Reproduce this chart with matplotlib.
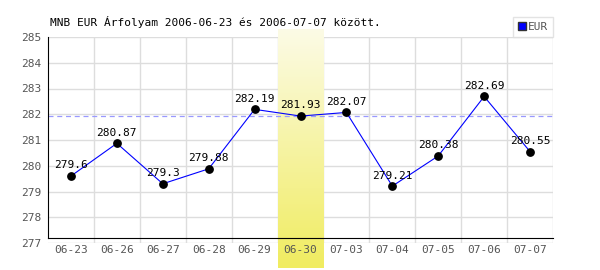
import numpy as np
import matplotlib
matplotlib.use("Agg")
from matplotlib import pyplot as plt

# data
dates = ["06-23", "06-26", "06-27", "06-28", "06-29", "06-30",
         "07-03", "07-04", "07-05", "07-06", "07-07"]
rates = [279.6, 280.87, 279.3, 279.88, 282.19, 281.93,
         282.07, 279.21, 280.38, 282.69, 280.55]
highlight = 5
yticks = [277, 278, 279, 280, 281, 282, 283, 284, 285]
title = "MNB EUR Árfolyam 2006-06-23 és 2006-07-07 között."

plt.rcParams['font.family'] = ['DejaVu Sans Mono']

fig = plt.figure(figsize=(6, 2.7), dpi=100)
ax = fig.add_axes([48/600, 1-243/270, 505/600, 206/270])

x = np.arange(len(dates))

# grid
for yv in yticks:
    ax.axhline(yv, color="#dddddd", lw=1, zorder=0)
for xv in x[1:]:
    ax.axvline(xv-0.5, color="#dddddd", lw=1, zorder=0)
ax.axvline(len(dates)-0.5, color="#dddddd", lw=1, zorder=0)

# highlighted column gradient
grad = np.linspace(0, 1, 256).reshape(-1, 1)
cmap = matplotlib.colors.LinearSegmentedColormap.from_list("y", ["#fcfbe6", "#f0ec60"])
ax.imshow(grad, cmap=cmap, aspect="auto", zorder=1, clip_on=False,
          extent=[highlight-0.5, highlight+0.5, 276.03, 285.3], origin="upper")

# reference line
ax.axhline(rates[highlight], color="#9999ff", lw=0.9, ls=(0, (4, 3)), zorder=2)

ax.plot(x, rates, color="#0000ff", lw=0.8, zorder=3)
ax.scatter(x, rates, color="black", s=28, zorder=4)
for xi, v in zip(x, rates):
    ax.annotate(f"{v:g}", (xi, v), xytext=(0, 4), textcoords="offset points",
                ha="center", va="bottom", fontsize=8, color="black", zorder=5)

ax.set_xlim(-0.5, len(dates)-0.5)
ax.set_ylim(277, 285)

for s in ["top", "right"]:
    ax.spines[s].set_visible(False)
ax.spines["bottom"].set_position(("data", 277.19))
ax.spines["left"].set_bounds(277.19, 285)
ax.spines["bottom"].set_zorder(6)

ax.set_yticks(yticks)
ax.set_xticks(x)
ax.set_xticklabels(dates)
ax.tick_params(length=0, labelsize=8, colors="#555555", pad=5)

fig.text(50/600, 1-22/270, title, fontsize=8, va="center", ha="left", color="black")

# legend
leg = ax.legend(handles=[plt.Line2D([], [], marker="s", ls="", color="#0000ff",
                                    markeredgecolor="#333333", markersize=6, label="EUR")],
                loc="lower right", bbox_to_anchor=(1.0, 1.0), frameon=True, fancybox=False,
                fontsize=8, handletextpad=0.1, borderpad=0.45, handlelength=0.8,
                borderaxespad=0)
leg.get_frame().set_edgecolor("#dddddd")
leg.get_frame().set_linewidth(1)
for t in leg.get_texts():
    t.set_color("#555555")

fig.savefig("out.png", dpi=100)
